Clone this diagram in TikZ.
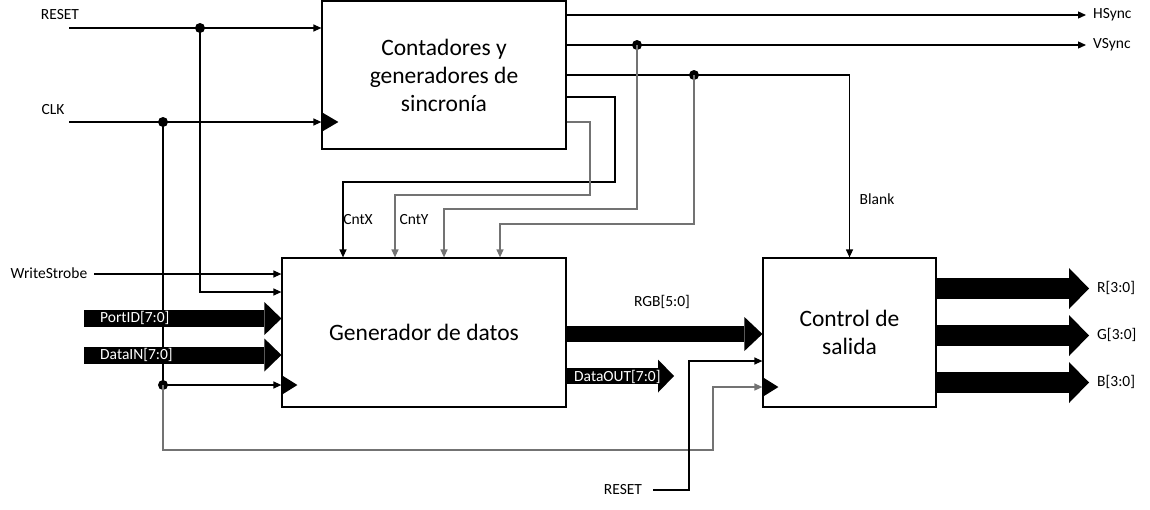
\documentclass[tikz,border=0pt]{standalone}
\usepackage{fontspec}
\setmainfont{Carlito}
\usetikzlibrary{arrows.meta,calc}
\begin{document}
\begin{tikzpicture}[x=1pt,y=-1pt,
  box/.style={draw,line width=1.2pt,fill=white,inner sep=0pt,align=center,font=\fontsize{23.5}{28}\selectfont},
  sig/.style={line width=1.2pt,draw=black},
  gsig/.style={line width=1.2pt,draw=black!55},
  tip/.style={-{Triangle[length=8pt 0 0,width=7pt 0 0]}},
  lbl/.style={font=\fontsize{15.5}{18}\selectfont,inner sep=0pt},
  wlbl/.style={font=\fontsize{15.5}{18}\selectfont,inner sep=0pt,text=white},
  dot/.style={circle,fill=black,inner sep=0pt,minimum size=10pt},
  fatA/.style={line width=17pt,-{Triangle[length=17pt 0 0,width=33pt 0 0,line width=0pt 0]}},
  fatB/.style={line width=21pt,-{Triangle[length=20pt 0 0,width=41pt 0 0,line width=0pt 0]}},
  clock/.style={fill=black}
]
\useasboundingbox (0,0) rectangle (1150,509);

% boxes
\node[box,minimum width=244pt,minimum height=148pt] (sync) at (444,75) {Contadores y\\generadores de\\sincronía};
\node[box,minimum width=284pt,minimum height=149pt] (gen) at (424,332.5) {Generador de datos};
\node[box,minimum width=173pt,minimum height=149pt] (ctrl) at (849.5,332.5) {Control de\\salida};

% clock triangles
\fill[clock] ([yshift=-37pt]sync.west) -- ++(17,10) -- ++(-17,10) -- cycle;
\fill[clock] ([yshift=-42.5pt]gen.west) -- ++(16,10) -- ++(-16,10) -- cycle;
\fill[clock] ([yshift=-44.5pt]ctrl.west) -- ++(16,10) -- ++(-16,10) -- cycle;

% coordinates
\coordinate (rst) at (69,28);
\coordinate (clk) at (69,122);
\coordinate (ws) at (94,274);
\coordinate (hs) at (1086,15);
\coordinate (vs) at (1086,45);
\coordinate (cx) at (615,182);
\coordinate (cy) at (590,195);
\coordinate (vy) at (637,209);
\coordinate (by) at (694,224);
\coordinate (cbr) at (713,450);
\coordinate (rb) at (653,490);
\coordinate (rbt) at (689,361);
\coordinate (pid) at (84,318.5);
\coordinate (din) at (84,355);
\coordinate (dout) at (674,376);
\coordinate (ro) at (1089,288.5);
\coordinate (go) at (1089,335.5);
\coordinate (bo) at (1089,382.5);

\node[dot] (dr) at (200,28) {};
\node[dot] (dc) at (163,122) {};
\node[dot] (dc2) at (163,385) {};
\node[dot] (dv) at (637,45) {};
\node[dot] (db) at (694,75) {};

% left inputs
\draw[sig,tip] (rst) -- ([yshift=47pt]sync.west);
\draw[sig,tip] (clk) -- ([yshift=-47pt]sync.west);
\draw[sig,tip] (dr.center) |- ([yshift=40.5pt]gen.west);
\draw[sig] (dc.center) -- (dc2.center);
\draw[sig,tip] (dc2.center) -- ([yshift=-52.5pt]gen.west);
\draw[gsig,tip] (dc2.center) |- (cbr) |- ([yshift=-54.5pt]ctrl.west);
\draw[sig,tip] (ws) -- ([yshift=58.5pt]gen.west);
\draw[sig,tip] (rb) -| (rbt) -- ([yshift=-28.5pt]ctrl.west);

% sync outputs
\draw[sig,tip] ([yshift=60pt]sync.east) -- (hs);
\draw[sig,tip] ([yshift=30pt]sync.east) -- (vs);
\draw[sig,tip] (sync.east) -| (ctrl.north);
\draw[sig,tip] ([yshift=-22pt]sync.east) -| (cx) -| ([xshift=-81pt]gen.north);
\draw[gsig,tip] ([yshift=-47pt]sync.east) -| (cy) -| ([xshift=-29pt]gen.north);
\draw[gsig,tip] (dv.center) -- (vy) -| ([xshift=20pt]gen.north);
\draw[gsig,tip] (db.center) -- (by) -| ([xshift=76pt]gen.north);

% buses
\draw[fatA] (pid) -- ([yshift=14pt]gen.west);
\draw[fatA] (din) -- ([yshift=-22.5pt]gen.west);
\draw[line width=16pt,-{Triangle[length=18pt 0 0,width=34pt 0 0,line width=0pt 0]}] ([yshift=-1.5pt]gen.east) -- ([yshift=-1.5pt]ctrl.west);
\draw[line width=16pt,-{Triangle[length=16pt 0 0,width=33pt 0 0,line width=0pt 0]}] ([yshift=-43.5pt]gen.east) -- (dout);
\draw[fatB] ([yshift=44pt]ctrl.east) -- (ro);
\draw[fatB] ([yshift=-3pt]ctrl.east) -- (go);
\draw[fatB] ([yshift=-50pt]ctrl.east) -- (bo);

% labels
\node[lbl] (lrst) at (60,15) {RESET};
\node[lbl] (lclk) at (53,110) {CLK};
\node[lbl] (lws) at (49,273) {WriteStrobe};
\node[lbl,anchor=west] (lhs) at (1093,15) {HSync};
\node[lbl,anchor=west] (lvs) at (1093,45) {VSync};
\node[lbl] (lbk) at (877,199) {Blank};
\node[lbl] (lcx) at (358,220) {CntX};
\node[lbl] (lcy) at (414,220) {CntY};
\node[lbl] (lrgb) at (662,302) {RGB[5:0]};
\node[lbl] (lrb) at (623,490) {RESET};
\node[lbl,anchor=west] (lr) at (1097,288) {R[3:0]};
\node[lbl,anchor=west] (lg) at (1097,335) {G[3:0]};
\node[lbl,anchor=west] (lb) at (1097,382) {B[3:0]};
\node[wlbl,anchor=west] (lpid) at (100,318) {PortID[7:0]};
\node[wlbl,anchor=west] (ldin) at (100,355) {DataIN[7:0]};
\node[wlbl,anchor=west] (ldout) at (574,377) {DataOUT[7:0]};
\end{tikzpicture}
\end{document}
